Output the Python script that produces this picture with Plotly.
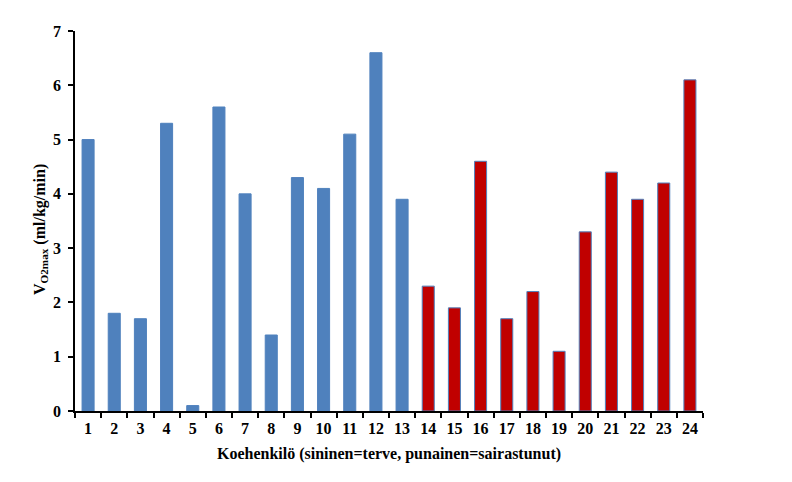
import plotly.graph_objects as go

subjects = [str(i) for i in range(1, 25)]
vo2max = [5.0, 1.8, 1.7, 5.3, 0.1, 5.6, 4.0, 1.4, 4.3, 4.1, 5.1, 6.6, 3.9,
          2.3, 1.9, 4.6, 1.7, 2.2, 1.1, 3.3, 4.4, 3.9, 4.2, 6.1]
status = ["terve"] * 13 + ["sairastunut"] * 11

colors = ["#4F81BD" if s == "terve" else "#C00000" for s in status]

fig = go.Figure(go.Bar(
    x=subjects, y=vo2max,
    marker=dict(color=colors, line=dict(color="#4F81BD", width=1)),
    width=0.46,
))

FONT = "Liberation Serif"
L, R, T, B = 75, 89, 31, 71
W, H = 792, 482
fig.update_layout(
    width=W, height=H,
    margin=dict(l=L, r=R, t=T, b=B),
    plot_bgcolor="white", paper_bgcolor="white",
    showlegend=False,
    font=dict(family=FONT, size=16, color="black"),
)
fig.update_xaxes(
    type="category", showline=True, linecolor="black", linewidth=1.5,
    ticks="outside", tickson="boundaries", ticklen=5, tickwidth=1.5, tickcolor="black",
    tickfont=dict(family=FONT, size=16, color="black", weight="bold"),
    ticklabelstandoff=2,
    title=dict(text="<b>Koehenkilö (sininen=terve, punainen=sairastunut)</b>",
               font=dict(family=FONT, size=16, color="black"), standoff=12),
    showgrid=False,
)
fig.update_yaxes(
    range=[0, 7], dtick=1, showline=True, linecolor="black", linewidth=1.5,
    ticks="outside", ticklen=5, tickwidth=1.5, tickcolor="black",
    tickfont=dict(family=FONT, size=16, color="black", weight="bold"),
    ticklabelstandoff=4,
    showgrid=False, zeroline=False,
)
fig.add_annotation(
    text="<b>V<sub>O2max</sub> (ml/kg/min)</b>",
    xref="paper", yref="paper",
    x=(40 - L) / (W - L - R), y=(H - B - 230) / (H - B - T),
    xanchor="center", yanchor="middle", textangle=-90, showarrow=False,
    font=dict(family=FONT, size=16, color="black"),
)
fig.write_html("out.html")
